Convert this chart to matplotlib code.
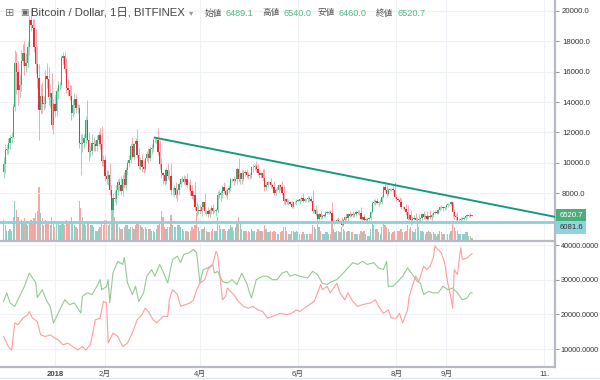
import numpy as np
import pandas as pd
import matplotlib
matplotlib.use("Agg")
import matplotlib.pyplot as plt

plt.rcParams['font.family'] = ['Liberation Sans', 'Noto Sans CJK JP', 'DejaVu Sans']

# 日足 (2017-11-30 ～ 2018-09-17), BITFINEX BTC/USD
start_date = "2017-11-30"
first_open = 9400
close_nov = [9900]
close_dec = [10850, 10900, 11300, 11600, 11700, 13700, 16600, 16000, 14800, 15100,
             16700, 17200, 16400, 16600, 17600, 19400, 19100, 18900, 17600, 16500,
             15600, 13500, 14400, 13900, 13900, 15700, 15500, 14300, 14600, 12500, 13900]
close_jan = [13400, 14700, 15100, 15100, 16900, 17000, 16200, 14900, 14800, 14400,
             13300, 13800, 14200, 13600, 13600, 11300, 11200, 11300, 11600, 12800,
             11500, 10700, 10800, 11300, 11200, 11100, 11500, 11800, 11200, 10100, 10200]
close_feb = [9100, 8900, 9200, 8200, 6900, 7700, 7600, 8200, 8700, 8500,
             8100, 8900, 8500, 9500, 10000, 10200, 11100, 10400, 11200, 11400,
             10500, 9800, 10200, 9700, 9600, 10300, 10600, 10300]
close_mar = [10900, 11000, 11500, 11500, 11500, 10700, 9900, 9300, 9200, 8800,
             9500, 9100, 9100, 8200, 8200, 8300, 7900, 8200, 8600, 8900,
             8900, 8700, 8900, 8500, 8500, 8100, 7800, 7900, 7100, 6800, 6900]
close_apr = [6800, 7100, 7400, 6800, 6800, 6600, 6900, 7000, 6800, 6800,
             6900, 7900, 7900, 8000, 8400, 8100, 7900, 8200, 8300, 8900,
             8900, 8800, 8900, 9600, 8900, 9300, 8900, 9300, 9400, 9200]
close_may = [9100, 9200, 9700, 9700, 9800, 9600, 9300, 9200, 9300, 9000,
             8400, 8500, 8700, 8700, 8500, 8400, 8000, 8200, 8200, 8500,
             8400, 8000, 7500, 7600, 7400, 7400, 7300, 7100, 7400, 7400, 7500]
close_jun = [7500, 7600, 7700, 7500, 7600, 7600, 7700, 7600, 7500, 6800,
             6900, 6600, 6300, 6600, 6400, 6500, 6500, 6700, 6700, 6750,
             6700, 6050, 6150, 6150, 6250, 6100, 6150, 5900, 6200, 6400]
close_jul = [6350, 6600, 6500, 6600, 6550, 6600, 6750, 6700, 6650, 6300,
             6400, 6250, 6250, 6300, 6350, 6750, 7350, 7400, 7500, 7350,
             7400, 7400, 7750, 8400, 8200, 7950, 8200, 8250, 8250, 8200, 7750]
close_aug = [7600, 7550, 7400, 7050, 7050, 6950, 6750, 6300, 6550, 6200,
             6300, 6350, 6250, 6200, 6300, 6350, 6600, 6400, 6500, 6300,
             6500, 6400, 6550, 6700, 6750, 6700, 6900, 7100, 7050, 6990, 7050]
close_sep = [7200, 7300, 7280, 7380, 6720, 6500, 6420, 6200, 6250, 6300,
             6300, 6340, 6500, 6500, 6550, 6489.1, 6520.7]

# ヒゲの長さ (実体の上 / 下)
wick_up = [500,
    400, 300, 300, 200, 300, 200, 800, 700, 700, 700, 700, 600, 800, 600, 400, 300, 800, 400, 600, 1200, 1200, 900, 800, 900, 500, 400, 900, 800, 600, 1300, 300,
    600, 200, 300, 200, 200, 300, 300, 700, 600, 300, 700, 400, 400, 300, 300, 300, 600, 600, 300, 300, 1300, 500, 300, 600, 400, 300, 300, 300, 500, 1200, 300,
    300, 400, 300, 800, 300, 300, 500, 300, 200, 300, 600, 300, 500, 200, 200, 300, 200, 600, 100, 200, 800, 500, 200, 400, 500, 100, 200, 400,
    200, 200, 100, 100, 200, 800, 800, 400, 100, 400, 200, 500, 400, 900, 200, 300, 400, 100, 100, 100, 200, 300, 200, 400, 200, 400, 400, 300, 800, 300, 300,
    300, 100, 100, 600, 100, 300, 100, 200, 300, 100, 100, 200, 300, 200, 100, 300, 100, 100, 200, 100, 100, 200, 100, 100, 700, 100, 200, 200, 100, 200,
    200, 100, 100, 200, 100, 300, 300, 100, 100, 300, 600, 200, 100, 100, 300, 100, 400, 100, 200, 100, 100, 400, 500, 100, 100, 200, 100, 200, 100, 100, 100,
    100, 100, 100, 300, 100, 100, 100, 100, 200, 700, 100, 300, 300, 100, 200, 100, 100, 100, 100, 100, 100, 700, 100, 100, 100, 200, 100, 250, 100, 100,
    300, 100, 200, 100, 200, 100, 100, 100, 150, 400, 100, 200, 100, 100, 100, 50, 100, 200, 100, 200, 100, 200, 100, 50, 300, 300, 100, 100, 100, 200, 500,
    200, 100, 200, 300, 100, 100, 300, 450, 100, 300, 200, 200, 300, 200, 300, 100, 50, 200, 100, 300, 50, 400, 100, 100, 100, 100, 50, 50, 100, 100, 100,
    50, 50, 50, 30, 30, 200, 100, 300, 100, 100, 100, 100, 50, 100, 50, 100, 20]
wick_dn = [400,
    600, 300, 300, 400, 300, 100, 300, 1500, 1000, 500, 400, 300, 600, 400, 300, 500, 400, 600, 300, 600, 700, 2000, 300, 600, 400, 300, 600, 500, 600, 300, 600,
    400, 300, 500, 300, 200, 400, 300, 300, 400, 300, 500, 300, 600, 300, 300, 300, 2000, 500, 300, 400, 100, 600, 300, 300, 400, 300, 300, 400, 300, 300, 300,
    300, 300, 400, 300, 900, 800, 200, 400, 300, 400, 200, 300, 200, 300, 300, 300, 200, 100, 200, 300, 200, 200, 300, 300, 300, 200, 200, 300,
    200, 300, 300, 200, 200, 200, 300, 300, 600, 300, 200, 200, 300, 300, 300, 400, 200, 400, 300, 200, 200, 100, 200, 200, 300, 200, 200, 300, 200, 300, 200,
    200, 300, 200, 200, 300, 200, 200, 300, 200, 100, 300, 200, 200, 400, 300, 100, 100, 300, 200, 200, 200, 300, 100, 300, 200, 300, 300, 100, 200, 200,
    200, 200, 200, 300, 200, 200, 100, 200, 200, 200, 300, 200, 100, 100, 200, 100, 100, 200, 100, 200, 200, 100, 200, 300, 100, 200, 100, 100, 100, 100, 200,
    100, 200, 100, 100, 100, 100, 200, 100, 100, 100, 100, 100, 200, 100, 100, 100, 100, 100, 100, 100, 100, 100, 100, 100, 100, 100, 100, 100, 100, 100,
    100, 200, 100, 100, 100, 100, 100, 100, 100, 100, 100, 100, 100, 100, 100, 100, 100, 100, 200, 100, 200, 100, 100, 100, 100, 200, 100, 100, 100, 200, 100,
    100, 100, 200, 100, 100, 100, 200, 100, 100, 300, 200, 100, 100, 400, 100, 200, 100, 100, 100, 100, 100, 100, 200, 100, 100, 100, 100, 100, 100, 150, 100,
    100, 150, 100, 50, 300, 200, 200, 200, 100, 100, 100, 100, 100, 50, 100, 100, 30]

# 出来高 (千BTC)
volume = [60,
    45, 30, 30, 35, 30, 70, 115, 90, 70, 50, 60, 55, 65, 50, 45, 55, 60, 50, 65, 80, 85, 155, 80, 65, 45, 60, 50, 55, 45, 70, 50,
    40, 55, 50, 45, 55, 50, 45, 60, 50, 55, 70, 55, 45, 40, 35, 115, 95, 70, 50, 45, 50, 55, 45, 45, 40, 30, 30, 35, 40, 55, 45,
    60, 60, 45, 50, 85, 95, 70, 50, 50, 40, 35, 35, 40, 45, 45, 35, 40, 40, 35, 45, 50, 55, 45, 40, 35, 40, 35, 35,
    35, 30, 30, 25, 35, 45, 55, 85, 70, 40, 35, 40, 40, 75, 45, 40, 40, 45, 45, 40, 35, 30, 30, 30, 25, 30, 40, 35, 45, 80, 40,
    30, 35, 35, 40, 30, 25, 25, 30, 35, 30, 30, 70, 45, 35, 35, 35, 30, 30, 35, 45, 40, 30, 40, 50, 70, 50, 35, 30, 30, 30,
    30, 25, 35, 30, 30, 25, 35, 30, 30, 30, 45, 35, 25, 25, 30, 25, 30, 25, 20, 20, 25, 30, 40, 40, 30, 20, 20, 30, 30, 25, 30,
    25, 20, 20, 25, 20, 20, 20, 20, 20, 45, 40, 35, 50, 40, 30, 20, 20, 25, 25, 20, 20, 55, 35, 25, 30, 30, 25, 40, 35, 30,
    25, 30, 30, 25, 25, 20, 20, 20, 20, 30, 25, 30, 20, 15, 15, 35, 50, 45, 35, 35, 25, 20, 40, 55, 45, 40, 35, 25, 20, 25, 30,
    30, 30, 30, 35, 25, 25, 30, 45, 35, 40, 30, 25, 35, 50, 40, 30, 30, 25, 20, 25, 30, 25, 20, 25, 20, 15, 20, 30, 25, 20, 20,
    20, 20, 20, 30, 55, 40, 30, 30, 20, 20, 20, 20, 25, 25, 15, 15, 10]

# 下段 (2018-01-01 からの日数, 値)
green_days = [-32, -30, -28, -25, -22, -19, -16, -12, -11, -8, -5, -3, -1, 2, 6, 9, 12, 16, 17, 20,
              23, 26, 28, 29, 32, 33, 34, 36, 39, 42, 43, 45, 48, 50, 52, 55, 57, 60, 62, 65,
              67, 70, 73, 76, 78, 80, 83, 86, 88, 90, 92, 95, 98, 99, 101, 104, 107, 110, 113, 116,
              119, 122, 125, 129, 132, 135, 138, 141, 144, 146, 149, 152, 157, 160, 163, 166, 169, 172, 175, 179,
              182, 185, 188, 191, 194, 198, 201, 204, 206, 207, 210, 213, 216, 219, 222, 225, 227, 229, 232, 235,
              238, 241, 244, 247, 250, 253, 256, 258, 259]
green_vals = [23700, 26200, 23300, 22300, 25200, 28100, 31900, 29100, 24800, 27100, 23700, 22300, 17500, 20400, 24200, 22800, 23300, 20400, 25200, 26200,
              25700, 28100, 30000, 27100, 28000, 30000, 23300, 32000, 35300, 34400, 36400, 29100, 25700, 28100, 23700, 26200, 31000, 32900, 31000, 34400,
              32400, 29100, 35800, 36800, 34900, 37300, 37700, 38700, 37700, 29100, 32900, 33400, 34400, 31900, 32400, 29500, 29000, 30000, 28600, 31900,
              29000, 24700, 30000, 31000, 31000, 30000, 30000, 31900, 32400, 31000, 31500, 31000, 30500, 32400, 31500, 29000, 28600, 29500, 30000, 31900,
              33400, 34900, 34400, 35300, 34400, 34900, 33400, 32900, 35300, 28100, 28100, 29500, 31000, 33400, 31500, 29500, 29000, 25700, 26600, 26200,
              26200, 28100, 27100, 27600, 26200, 24200, 24700, 26200, 26200]
red_days = [-32, -29, -27, -25, -23, -20, -17, -16, -14, -11, -9, -6, -3, 0, 2, 5, 8, 11, 14, 17,
            19, 22, 25, 28, 30, 32, 33, 36, 39, 42, 45, 48, 51, 54, 56, 58, 61, 63, 65, 67,
            70, 71, 73, 76, 78, 81, 84, 86, 88, 90, 93, 95, 98, 100, 101, 104, 106, 107, 111, 114,
            117, 120, 123, 126, 129, 132, 135, 140, 144, 147, 150, 152, 155, 158, 161, 163, 165, 166, 169, 171,
            173, 175, 177, 180, 182, 185, 188, 191, 196, 199, 201, 204, 207, 209, 212, 214, 216, 219, 220, 224,
            226, 229, 231, 233, 235, 236, 238, 240, 242, 244, 246, 247, 248, 250, 252, 253, 256, 259]
red_vals = [13600, 10700, 9700, 17500, 17000, 18900, 19900, 20800, 18900, 17900, 14100, 13600, 14100, 13100, 12600, 11200, 11700, 10700, 9700, 10700,
            9700, 11200, 18400, 18900, 23700, 23300, 11700, 14600, 13600, 10700, 11700, 14600, 18400, 19900, 21800, 20800, 18400, 17500, 18400, 19400,
            19400, 24200, 27100, 25700, 22300, 22800, 23300, 24200, 27100, 29000, 30000, 32900, 34400, 38200, 37300, 24200, 25200, 27600, 25700, 23700,
            22300, 21800, 22300, 21300, 20800, 18900, 19400, 20300, 19900, 20300, 21300, 20800, 21800, 22800, 23700, 26200, 28600, 27100, 28100, 26200,
            27600, 29000, 26200, 24200, 26200, 23700, 22300, 22800, 23300, 24200, 22300, 20300, 21300, 18900, 18900, 20300, 17500, 21300, 25200, 31000,
            29500, 33900, 32900, 33900, 36300, 39700, 38700, 37700, 34900, 29000, 24700, 21800, 32900, 31500, 39200, 35800, 36300, 37500]

# トレンドライン / 水平線
trend_dates = ["2018-03-04", "2018-11-08"]
trend_vals = [11650, 6420]
hline_val = 6081.6

header_names = ["始値", "高値", "安値", "終値"]
header_vals = [6489.1, 6540.0, 6460.0, 6520.7]

month_ticks = ["2018-01-01", "2018-02-01", "2018-04-01", "2018-06-01", "2018-08-01", "2018-09-01", "2018-11-01"]
month_labels = ["2018", "2月", "4月", "6月", "8月", "9月", "11."]
price_ticks = [8000, 10000, 12000, 14000, 16000, 18000, 20000]
lower_ticks = [10000, 20000, 30000, 40000]

# ---- 準備 ----
closes = np.array(close_nov + close_dec + close_jan + close_feb + close_mar + close_apr
                  + close_may + close_jun + close_jul + close_aug + close_sep, dtype=float)
n = len(closes)
opens = np.r_[first_open, closes[:-1]]
highs = np.maximum(opens, closes) + np.array(wick_up)
lows = np.minimum(opens, closes) - np.array(wick_dn)

t0 = pd.Timestamp("2018-01-01")
dates = pd.date_range(start_date, periods=n)
x = np.asarray((dates - t0).days, dtype=float)
up = closes >= opens

def day(s):
    return (pd.Timestamp(s) - t0).days

xt = [day(d) for d in month_ticks]
xlim = (-34.2, 310.6)

UP, DOWN = "#34a872", "#ee2a38"
GRID = "#eef1f6"
SPINE = "#b7bac2"
TICK_FS = 5.6

W, H = 600, 380
fig = plt.figure(figsize=(6, 3.8), dpi=100)
rect = [0, 1 - 241 / H, 555 / W, 241 / H]
axv = fig.add_axes(rect)
ax = fig.add_axes(rect)
ax.patch.set_visible(False)
ax2 = fig.add_axes([0, 1 - 367 / H, 555 / W, 124 / H])

# 出来高
vcol = np.where(up, "#8ed0c5", "#f6a7a4")
axv.bar(x, volume, width=0.8, color=vcol, linewidth=0)
axv.set_xlim(xlim)
axv.set_ylim(0, 690)
axv.axis("off")

# ローソク足
wcol = np.where(up, "#9fd8bd", "#f7a9ae")
ax.vlines(x, lows, highs, colors=wcol, linewidth=0.7, zorder=2)
body = np.maximum(np.abs(closes - opens), 25)
ax.bar(x, body, bottom=np.minimum(opens, closes), width=0.8,
       color=np.where(up, UP, DOWN), linewidth=0, zorder=3)

ax.plot([day(d) for d in trend_dates], trend_vals, color="#179a7c", lw=1.4, zorder=4)
ax.axhline(hline_val, color="#8ccfd9", lw=2, zorder=4)

ax.set_xlim(xlim)
ax.set_ylim(4836, 20725)
ax.set_xticks(xt)
ax.set_yticks(price_ticks)
ax.set_yticklabels([f"{v:.1f}" for v in price_ticks])
ax.yaxis.tick_right()
ax.tick_params(axis="y", length=3, color="#999", labelsize=TICK_FS, labelcolor="#333", pad=2)
ax.tick_params(axis="x", length=0, labelbottom=False)
ax.grid(color=GRID, lw=0.8)
ax.set_axisbelow(True)
for s in ["top", "left"]:
    ax.spines[s].set_visible(False)
for s in ["right", "bottom"]:
    ax.spines[s].set_color(SPINE)
    ax.spines[s].set_linewidth(1.6)

# 価格タグ
ax.annotate(f"{closes[-1]:.1f}", xy=(1, closes[-1]), xycoords=("axes fraction", "data"),
            xytext=(3, 0), textcoords="offset points", va="center", ha="left",
            fontsize=TICK_FS, color="white",
            bbox=dict(boxstyle="square,pad=0.35", fc="#4aae7a", ec="none"))
ax.annotate(f"{hline_val:.1f}", xy=(1, hline_val), xycoords=("axes fraction", "data"),
            xytext=(3, -3.8), textcoords="offset points", va="center", ha="left",
            fontsize=TICK_FS, color="#333",
            bbox=dict(boxstyle="square,pad=0.35", fc="#8fd3dd", ec="none"))

# 下段
ax2.plot(green_days, green_vals, color="#94c994", lw=0.8)
ax2.plot(red_days, red_vals, color="#ff9d9d", lw=0.8)
ax2.set_xlim(xlim)
ax2.set_ylim(4808, 40577)
ax2.set_yticks(lower_ticks)
ax2.set_yticklabels([f"{v:.4f}" for v in lower_ticks])
ax2.yaxis.tick_right()
ax2.tick_params(axis="y", length=3, color="#999", labelsize=5.2, labelcolor="#333", pad=1)
ax2.set_xticks(xt)
ax2.set_xticklabels(month_labels)
ax2.tick_params(axis="x", length=0, labelsize=TICK_FS, labelcolor="#444", pad=3)
ax2.get_xticklabels()[0].set_fontweight("bold")
ax2.grid(color=GRID, lw=0.8)
for s in ["top", "left"]:
    ax2.spines[s].set_visible(False)
for s in ["right", "bottom"]:
    ax2.spines[s].set_color(SPINE)
    ax2.spines[s].set_linewidth(1.6)

# 下端の区切り線
fig.add_artist(plt.Line2D([0, 1], [2.5 / H, 2.5 / H], color="#e3e8f0", lw=1))

# ヘッダー
ty = 1 - 13 / H
fig.text(5 / W, ty, "⊞", fontsize=8, color="#777", va="center", family="DejaVu Sans")
fig.text(20 / W, ty, "▣", fontsize=6.5, color="#666", va="center", family="DejaVu Sans")
fig.text(31 / W, ty, "Bitcoin / Dollar, 1日, BITFINEX", fontsize=8.2, color="#444", va="center")
fig.text(189 / W, ty, "▾", fontsize=6, color="#999", va="center", family="DejaVu Sans")
name_x = [205, 262, 318, 376]
for nx, name, val in zip(name_x, header_names, header_vals):
    fig.text(nx / W, ty, name, fontsize=6.2, color="#555", va="center")
    fig.text((nx + 21) / W, ty, f"{val:.1f}", fontsize=6.6, color="#53b987", va="center")

fig.savefig("out.png", dpi=100, facecolor="white")
